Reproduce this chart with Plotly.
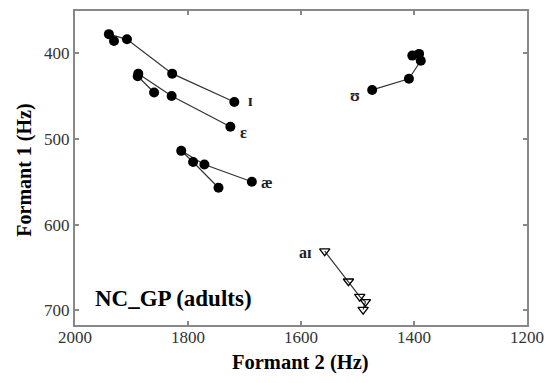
import plotly.graph_objects as go

# Formant trajectories (F2, F1) in Hz
i_f2 = [1718, 1828, 1908, 1940, 1931]
i_f1 = [457, 424, 384, 378, 386]

e_f2 = [1725, 1829, 1888, 1889, 1860]
e_f1 = [486, 450, 424, 427, 446]

ae_f2 = [1687, 1771, 1812, 1791, 1746]
ae_f1 = [550, 530, 514, 527, 557]

u_f2 = [1474, 1409, 1388, 1391, 1403]
u_f1 = [443, 430, 409, 401, 403]

ai_f2 = [1558, 1516, 1496, 1486, 1490]
ai_f1 = [631, 666, 684, 690, 699]

labels = ["ɪ", "ɛ", "æ", "ʊ", "aɪ"]
label_f2 = [1690, 1702, 1661, 1505, 1592]
label_f1 = [455, 493, 551, 449, 633]

x_ticks = [2000, 1800, 1600, 1400, 1200]
y_ticks = [400, 500, 600, 700]

SERIF = "Liberation Serif, DejaVu Serif, serif"

fig = go.Figure()
line_style = dict(color="#333333", width=1.2)
for xs, ys in [(i_f2, i_f1), (e_f2, e_f1), (ae_f2, ae_f1), (u_f2, u_f1)]:
    fig.add_trace(go.Scatter(x=xs, y=ys, mode="lines+markers", line=line_style,
                             marker=dict(symbol="circle", size=10, color="black"),
                             showlegend=False))
fig.add_trace(go.Scatter(x=ai_f2, y=ai_f1, mode="lines+markers", line=line_style,
                         marker=dict(symbol="triangle-down-open", size=9, color="black",
                                     line=dict(width=1.3)),
                         showlegend=False))

for lab, lx, ly in zip(labels, label_f2, label_f1):
    fig.add_annotation(x=lx, y=ly, text="<b>" + lab + "</b>", showarrow=False,
                       font=dict(family=SERIF, size=16, color="#222222"),
                       xanchor="center", yanchor="middle")

fig.add_annotation(x=1968, y=686, text="<b>NC_GP (adults)</b>", showarrow=False,
                   xanchor="left", yanchor="middle",
                   font=dict(family=SERIF, size=23, color="black"))

# axis titles
fig.add_annotation(xref="paper", yref="paper", x=0.498, y=-0.118,
                   text="<b>Formant 2 (Hz)</b>", showarrow=False,
                   xanchor="center", yanchor="middle",
                   font=dict(family=SERIF, size=20.5, color="black"))
fig.add_annotation(xref="paper", yref="paper", x=-0.111, y=0.494,
                   text="<b>Formant 1 (Hz)</b>", showarrow=False, textangle=-90,
                   xanchor="center", yanchor="middle",
                   font=dict(family=SERIF, size=20, color="black"))

axis_common = dict(showline=True, linecolor="#888888", linewidth=2, mirror="ticks",
                   ticks="inside", ticklen=4, tickcolor="#888888", tickwidth=1.5,
                   showgrid=False, zeroline=False, automargin=False,
                   tickfont=dict(family=SERIF, size=17, color="#333333"))

fig.update_xaxes(range=[2000, 1200], tickvals=x_ticks, ticktext=[str(v) for v in x_ticks],
                 ticklabelstandoff=-4, **axis_common)
fig.update_yaxes(range=[717, 351], tickvals=y_ticks, ticktext=[str(v) for v in y_ticks],
                 **axis_common)

fig.update_layout(width=549, height=383, margin=dict(l=75, r=22, t=11, b=58),
                  plot_bgcolor="white", paper_bgcolor="white")

fig.write_html("out.html", config={"displayModeBar": False},
               post_script="document.body.style.margin='0';document.body.style.overflow='hidden';")
